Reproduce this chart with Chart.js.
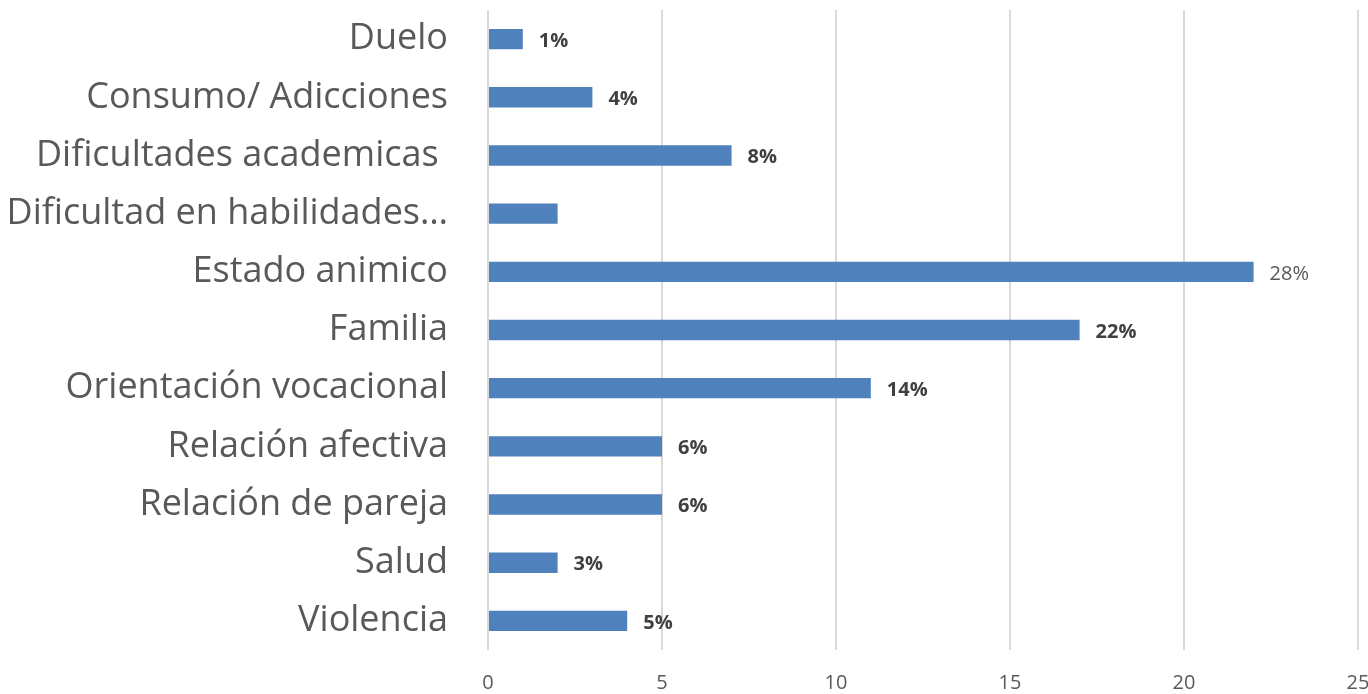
<!DOCTYPE html>
<html>
<head>
<meta charset="utf-8">
<script src="https://cdn.jsdelivr.net/npm/chart.js@4"></script>
<style>
  body { margin: 0; background: #fff; }
  #wrap { width: 1368px; height: 694px; }
</style>
</head>
<body>
<div id="wrap"><canvas id="motivos_chart"></canvas></div>
<script>
var categorias = [
    "Duelo",
    "Consumo/ Adicciones",
    "Dificultades academicas ",
    "Dificultad en habilidades…",
    "Estado animico",
    "Familia",
    "Orientación vocacional",
    "Relación afectiva",
    "Relación de pareja",
    "Salud",
    "Violencia"
];
var casos = [1, 3, 7, 2, 22, 17, 11, 5, 5, 2, 4];
var porcentajes = ["1%", "4%", "8%", null, "28%", "22%", "14%", "6%", "6%", "3%", "5%"];
var ticksX = [0, 5, 10, 15, 20, 25];

// etiquetas de porcentaje al final de cada barra
var etiquetasBarra = {
    id: "etiquetasBarra",
    afterDatasetsDraw: function(chart) {
        var ctx = chart.ctx;
        var meta = chart.getDatasetMeta(0);
        ctx.save();
        ctx.textAlign = "left";
        ctx.textBaseline = "middle";
        meta.data.forEach(function(bar, i) {
            var txt = porcentajes[i];
            if (!txt) return;
            var normal = txt === "28%";
            ctx.font = (normal ? "normal " : "bold ") + "20px 'Open Sans'";
            ctx.fillStyle = normal ? "#595959" : "#404040";
            ctx.fillText(txt, bar.x + 16, bar.y + 2);
        });
        ctx.restore();
    }
};

new Chart("motivos_chart", {
    type: "bar",
    data: {
        labels: categorias,
        datasets: [{
            data: casos,
            backgroundColor: "#4f81bd",
            borderWidth: 0,
            barPercentage: 0.35,
            categoryPercentage: 1
        }]
    },
    options: {
        indexAxis: "y",
        responsive: true,
        maintainAspectRatio: false,
        animation: false,
        layout: {
            padding: { top: 10, right: 10, left: 0, bottom: 0 }
        },
        plugins: {
            legend: { display: false },
            tooltip: { enabled: false }
        },
        scales: {
            x: {
                min: 0,
                max: 25,
                afterBuildTicks: function(scale) {
                    scale.ticks = ticksX.map(function(v) { return { value: v }; });
                },
                afterFit: function(scale) {
                    scale.height = 44;
                    scale.paddingLeft = 0;
                    scale.paddingRight = 0;
                },
                grid: { color: "#d9d9d9", lineWidth: 2, drawTicks: false },
                border: { display: false },
                ticks: {
                    padding: 21,
                    color: "#595959",
                    font: { family: "'Open Sans'", size: 20 }
                }
            },
            y: {
                afterFit: function(scale) {
                    scale.width = 488;
                    scale.paddingTop = 0;
                    scale.paddingBottom = 0;
                },
                grid: { display: false, drawTicks: false },
                border: { display: false },
                ticks: {
                    padding: 40,
                    color: "#595959",
                    font: { family: "'Open Sans'", size: 36 }
                }
            }
        }
    },
    plugins: [etiquetasBarra]
});
</script>
</body>
</html>
